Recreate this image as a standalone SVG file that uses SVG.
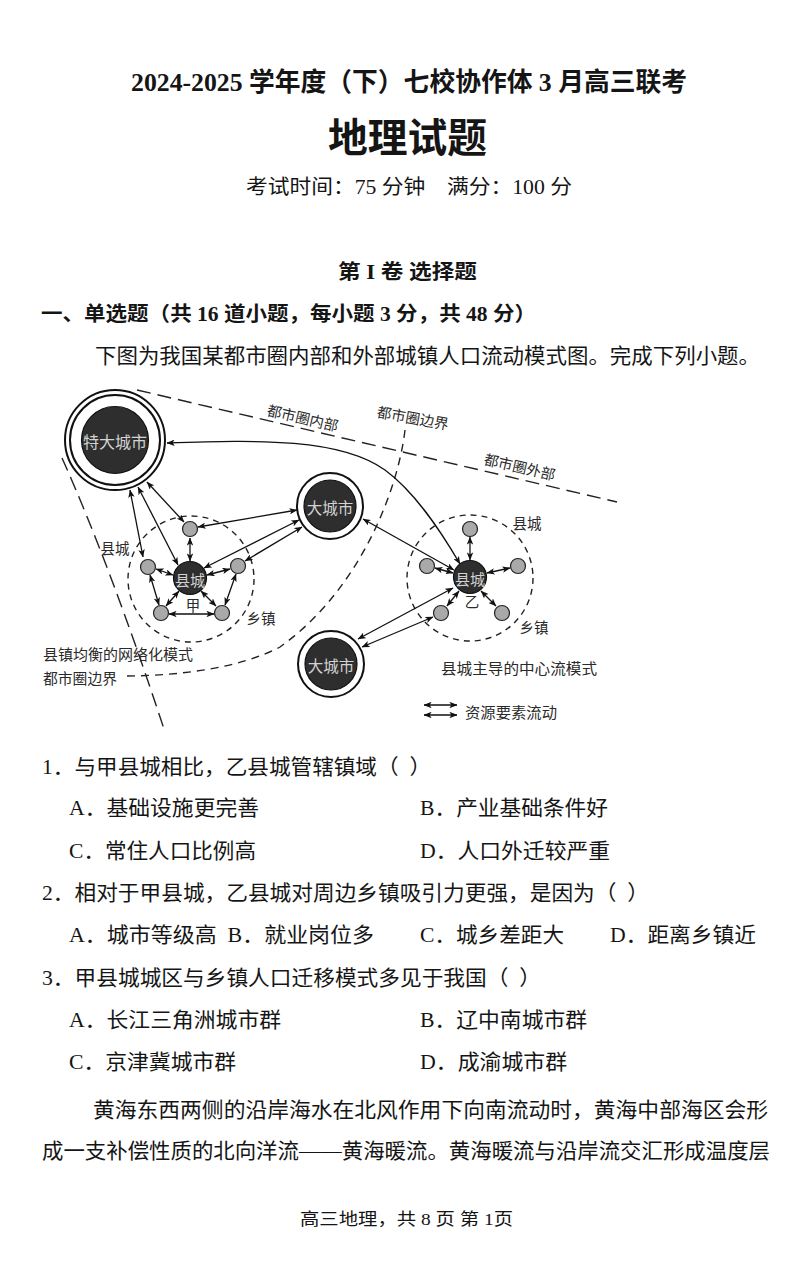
<svg xmlns="http://www.w3.org/2000/svg" width="800" height="1269" viewBox="0 0 800 1269">
<defs>
<marker id="ah" viewBox="0 0 10 8" refX="9.5" refY="4" markerWidth="8" markerHeight="6.4" markerUnits="userSpaceOnUse" orient="auto-start-reverse">
<path d="M0,0 L10,4 L0,8 L2.5,4 z" fill="#111"/>
</marker>
</defs>
<style>
text{font-family:"Liberation Serif","Noto Sans CJK SC",serif;fill:#151515;dominant-baseline:central}
.b{font-weight:bold}
.q{font-size:21px}
.lab{font-family:"Noto Sans CJK SC",sans-serif;font-size:14.5px;fill:#2a2a2a}
.in{font-family:"Noto Sans CJK SC",sans-serif;fill:#d2d2d2;text-anchor:middle}
.dark{fill:#2e2e2e;stroke:#111;stroke-width:1.2}
.ring{fill:#fff;stroke:#111;stroke-width:2}
.gray{fill:#a9a9a9;stroke:#222;stroke-width:1.2}
.dz{fill:none;stroke:#222;stroke-width:1.4;stroke-dasharray:6 5}
.dl{fill:none;stroke:#222;stroke-width:1.4;stroke-dasharray:14 7}
.cn line,.cn path{stroke:#111;stroke-width:1.3;fill:none;marker-start:url(#ah);marker-end:url(#ah)}
</style>
<rect width="800" height="1269" fill="#fff"/>

<!-- header -->
<text x="131" y="82" class="b" font-size="26" textLength="556" lengthAdjust="spacingAndGlyphs">2024-2025 学年度（下）七校协作体 3 月高三联考</text>
<text x="328" y="138" class="b" font-size="40" textLength="159" lengthAdjust="spacingAndGlyphs">地理试题</text>
<text x="246" y="187" font-size="20" textLength="326" lengthAdjust="spacingAndGlyphs">考试时间：75 分钟　满分：100 分</text>
<text x="338" y="272" class="b" font-size="20" textLength="139" lengthAdjust="spacingAndGlyphs">第 I 卷 选择题</text>
<text x="41" y="314" class="b" font-size="20" textLength="495" lengthAdjust="spacingAndGlyphs">一、单选题（共 16 道小题，每小题 3 分，共 48 分）</text>
<text x="95" y="356" font-size="21" textLength="665" lengthAdjust="spacingAndGlyphs">下图为我国某都市圈内部和外部城镇人口流动模式图。完成下列小题。</text>

<!-- diagram boundaries -->
<g id="boundaries">
<line class="dl" x1="137" y1="390" x2="617" y2="502"/>
<path class="dl" d="M62,458 Q110,565 165,732"/>
<path class="dl" d="M405,430 C398,490 360,590 280,647 C240,668 180,676 122,676" style="stroke-dasharray:8 6"/>
<circle class="dz" cx="191" cy="579" r="63"/>
<circle class="dz" cx="470" cy="578" r="63"/>
</g>

<!-- connectors -->
<g id="connectors" class="cn">
<line x1="130" y1="490" x2="143" y2="557"/>
<line x1="138" y1="487" x2="178" y2="565"/>
<line x1="147" y1="482" x2="184" y2="522"/>
<line x1="297" y1="510" x2="198" y2="527"/>
<line x1="299" y1="520" x2="204" y2="568"/>
<line x1="302" y1="527" x2="245" y2="561"/>
<line x1="190" y1="538" x2="190" y2="561"/>
<line x1="156" y1="569" x2="173" y2="575"/>
<line x1="207" y1="575" x2="230" y2="569"/>
<line x1="179" y1="591" x2="166" y2="606"/>
<line x1="201" y1="591" x2="216" y2="606"/>
<line x1="150" y1="575" x2="159" y2="605"/>
<line x1="236" y1="574" x2="225" y2="605"/>
<line x1="169" y1="614" x2="214" y2="614"/>
<path d="M167,443 C260,440 340,438 385,470 C415,492 440,530 460,564"/>
<line x1="363" y1="519" x2="454" y2="570"/>
<line x1="453" y1="588" x2="358" y2="639"/>
<line x1="433" y1="617" x2="362" y2="647"/>
<line x1="470" y1="537" x2="470" y2="560"/>
<line x1="435" y1="568" x2="453" y2="573"/>
<line x1="487" y1="573" x2="510" y2="568"/>
<line x1="459" y1="591" x2="447" y2="606"/>
<line x1="481" y1="591" x2="496" y2="606"/>
<line x1="424" y1="705" x2="457" y2="705"/>
<line x1="424" y1="715" x2="457" y2="715"/>
</g>

<!-- nodes -->
<g id="megacity">
<circle class="ring" cx="115" cy="440" r="50"/>
<circle class="ring" cx="115" cy="440" r="45"/>
<circle class="dark" cx="115" cy="440" r="33.5"/>
<text class="in" x="115" y="441" font-size="16">特大城市</text>
</g>
<g id="bigcity1">
<circle class="ring" cx="330" cy="506" r="33"/>
<circle class="dark" cx="330" cy="506" r="26"/>
<text class="in" x="330" y="507" font-size="15.5">大城市</text>
</g>
<g id="bigcity2">
<circle class="ring" cx="331" cy="664" r="33"/>
<circle class="dark" cx="331" cy="664" r="26"/>
<text class="in" x="331" y="665" font-size="15.5">大城市</text>
</g>
<g id="county-jia">
<circle class="dark" cx="190" cy="578" r="16.5"/>
<text class="in" x="190" y="579" font-size="15">县城</text>
</g>
<g id="jia-towns">
<circle class="gray" cx="190" cy="529" r="7.5"/>
<circle class="gray" cx="148" cy="567" r="7.5"/>
<circle class="gray" cx="238" cy="566" r="7.5"/>
<circle class="gray" cx="161" cy="613" r="7.5"/>
<circle class="gray" cx="222" cy="613" r="7.5"/>
</g>
<g id="county-yi">
<circle class="dark" cx="470" cy="577" r="16.5"/>
<text class="in" x="470" y="578" font-size="15">县城</text>
</g>
<g id="yi-towns">
<circle class="gray" cx="470" cy="529" r="7.5"/>
<circle class="gray" cx="427" cy="566" r="7.5"/>
<circle class="gray" cx="518" cy="566" r="7.5"/>
<circle class="gray" cx="441" cy="613" r="7.5"/>
<circle class="gray" cx="502" cy="613" r="7.5"/>
</g>

<!-- diagram labels -->
<g id="labels">
<text class="lab" x="303" y="417" text-anchor="middle" transform="rotate(13 303 417)">都市圈内部</text>
<text class="lab" x="413" y="417" text-anchor="middle" transform="rotate(10 413 417)">都市圈边界</text>
<text class="lab" x="520" y="466" text-anchor="middle" transform="rotate(13 520 466)">都市圈外部</text>
<text class="lab" x="115" y="547" text-anchor="middle">县城</text>
<text class="lab" x="193" y="604" text-anchor="middle">甲</text>
<text class="lab" x="261" y="617" text-anchor="middle">乡镇</text>
<text class="lab" x="527" y="522" text-anchor="middle">县城</text>
<text class="lab" x="472" y="600" text-anchor="middle">乙</text>
<text class="lab" x="534" y="626" text-anchor="middle">乡镇</text>
<text class="lab" x="43" y="653" textLength="150" lengthAdjust="spacingAndGlyphs">县镇均衡的网络化模式</text>
<text class="lab" x="43" y="677" textLength="74" lengthAdjust="spacingAndGlyphs">都市圈边界</text>
<text class="lab" x="441" y="667" textLength="156" lengthAdjust="spacingAndGlyphs">县城主导的中心流模式</text>
<text class="lab" x="465" y="711" textLength="92" lengthAdjust="spacingAndGlyphs">资源要素流动</text>
</g>

<!-- questions -->
<g id="questions" class="q">
<text x="42" y="767" textLength="389" lengthAdjust="spacingAndGlyphs">1．与甲县城相比，乙县城管辖镇域（&#160;&#160;）</text>
<text x="69" y="808" textLength="190" lengthAdjust="spacingAndGlyphs">A．基础设施更完善</text>
<text x="420" y="808" textLength="188" lengthAdjust="spacingAndGlyphs">B．产业基础条件好</text>
<text x="69" y="851" textLength="187" lengthAdjust="spacingAndGlyphs">C．常住人口比例高</text>
<text x="420" y="851" textLength="190" lengthAdjust="spacingAndGlyphs">D．人口外迁较严重</text>
<text x="42" y="893" textLength="607" lengthAdjust="spacingAndGlyphs">2．相对于甲县城，乙县城对周边乡镇吸引力更强，是因为（&#160;&#160;）</text>
<text x="69" y="935" textLength="305" lengthAdjust="spacingAndGlyphs">A．城市等级高&#160;&#160;B．就业岗位多</text>
<text x="420" y="935" textLength="144" lengthAdjust="spacingAndGlyphs">C．城乡差距大</text>
<text x="610" y="935" textLength="146" lengthAdjust="spacingAndGlyphs">D．距离乡镇近</text>
<text x="42" y="978" textLength="499" lengthAdjust="spacingAndGlyphs">3．甲县城城区与乡镇人口迁移模式多见于我国（&#160;&#160;）</text>
<text x="69" y="1020" textLength="212" lengthAdjust="spacingAndGlyphs">A．长江三角洲城市群</text>
<text x="420" y="1020" textLength="167" lengthAdjust="spacingAndGlyphs">B．辽中南城市群</text>
<text x="69" y="1062" textLength="167" lengthAdjust="spacingAndGlyphs">C．京津冀城市群</text>
<text x="420" y="1062" textLength="147" lengthAdjust="spacingAndGlyphs">D．成渝城市群</text>
</g>

<!-- passage -->
<text x="93" y="1110" font-size="21" textLength="675" lengthAdjust="spacingAndGlyphs">黄海东西两侧的沿岸海水在北风作用下向南流动时，黄海中部海区会形</text>
<text x="42" y="1151" font-size="21" textLength="728" lengthAdjust="spacingAndGlyphs">成一支补偿性质的北向洋流——黄海暖流。黄海暖流与沿岸流交汇形成温度层</text>
<text x="300" y="1219" font-size="17" textLength="213" lengthAdjust="spacingAndGlyphs">高三地理，共 8 页 第 1页</text>
</svg>
